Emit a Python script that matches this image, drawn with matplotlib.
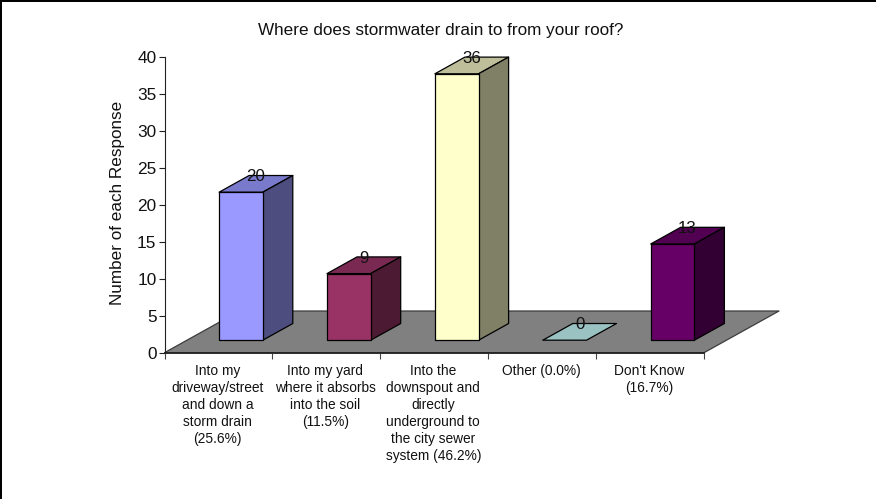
import matplotlib
matplotlib.use("Agg")
import matplotlib.pyplot as plt
from matplotlib.lines import Line2D
from matplotlib.transforms import ScaledTranslation

plt.rcParams['font.family'] = ['Liberation Sans', 'DejaVu Sans']

# --- data ---
categories = [
    "Into my\ndriveway/street\nand down a\nstorm drain\n(25.6%)",
    "Into my yard\nwhere it absorbs\ninto the soil\n(11.5%)",
    "Into the\ndownspout and\ndirectly\nunderground to\nthe city sewer\nsystem (46.2%)",
    "Other (0.0%)",
    "Don't Know\n(16.7%)",
]
values = [20, 9, 36, 0, 13]
front_colors = ["#9999FF", "#993366", "#FFFFCC", "#A3CCCC", "#660066"]
top_colors = ["#7A7ACC", "#7A2952", "#BEBE9A", "#9BC2C2", "#520052"]
side_colors = ["#4D4D80", "#4D1A33", "#808066", "#4D6666", "#330033"]
yticks = [0, 5, 10, 15, 20, 25, 30, 35, 40]

W, H = 876, 499
fig = plt.figure(figsize=(W / 100, H / 100), dpi=100)

# axes box in pixels: 0 at y=352.7, 40 at y=56.7, categories from x=164.5 to 704
left, right, bottom, top = 164.5, 704.0, 352.7, 56.7
ax = fig.add_axes([left / W, 1 - bottom / H, (right - left) / W, (bottom - top) / H])
ax.set_xlim(0, 5)
ax.set_ylim(0, 40)

# the fake 3D depth, full floor depth expressed in data units
depth_x = 75.0 / 107.9
depth_y = 41.7 / 7.4


def project(x, y, d):
    return x + d * depth_x, y + d * depth_y


def poly(points, color, edge="black", lw=0.9, z=3):
    xs = [project(*p)[0] for p in points]
    ys = [project(*p)[1] for p in points]
    ax.fill(xs, ys, facecolor=color, edgecolor=edge, linewidth=lw,
            clip_on=False, zorder=z, joinstyle="round")


# --- floor ---
poly([(0, 0, 0), (5, 0, 0), (5, 0, 1), (0, 0, 1)], "#808080", edge="#3C3C3C", lw=0.9, z=1)

# --- bars ---
bar_w = 43.7 / 107.9
d0, d1 = 0.3, 0.7
label_shift = ScaledTranslation(0, 7 / 100, fig.dpi_scale_trans)
for i, v in enumerate(values):
    x0 = i + (1 - bar_w) / 2
    x1 = x0 + bar_w
    poly([(x0, v, d0), (x1, v, d0), (x1, v, d1), (x0, v, d1)], top_colors[i])
    if v > 0:
        poly([(x1, 0, d0), (x1, 0, d1), (x1, v, d1), (x1, v, d0)], side_colors[i])
        poly([(x0, 0, d0), (x1, 0, d0), (x1, v, d0), (x0, v, d0)], front_colors[i])
    lx, ly = project(i + 0.5, v, 0.5)
    ax.text(lx, ly, str(v), ha="center", va="center", fontsize=12.2, color="#111111",
            zorder=5, clip_on=False, transform=ax.transData + label_shift)

# --- axes ---
ax.patch.set_visible(False)
for s in ["top", "right"]:
    ax.spines[s].set_visible(False)
ax.spines["left"].set_linewidth(0.8)
ax.spines["left"].set_color("#222222")
ax.spines["bottom"].set_linewidth(1.3)
ax.spines["bottom"].set_color("#222222")
ax.spines["bottom"].set_zorder(2)

ax.set_yticks(yticks)
ax.tick_params(axis="y", labelsize=12.4, length=4.3, width=0.8, pad=1.5, color="#222222", labelcolor="#111111")
ax.set_xticks(range(6))
ax.set_xticklabels([])
ax.tick_params(axis="x", length=4.3, width=0.8, color="#444444")
for i, c in enumerate(categories):
    ax.annotate(c, xy=(i + 0.5, 0), xycoords="data", xytext=(-1, -11), textcoords="offset pixels",
                ha="center", va="top", fontsize=9.95, linespacing=1.28, color="#111111")

ax.set_ylabel("Number of each Response", fontsize=12.3, color="#111111")
ax.yaxis.set_label_coords((125 - left) / (right - left), 0.505)

fig.text(441 / W, 1 - 31 / H, "Where does stormwater drain to from your roof?",
         ha="center", va="center", fontsize=12.3, color="#111111")

# black edge on the top and left of the image
fig.add_artist(Line2D([0, 1], [1 - 1 / H, 1 - 1 / H], color="black", lw=1.44))
fig.add_artist(Line2D([1 / W, 1 / W], [0, 1], color="black", lw=1.44))

fig.savefig("out.png", dpi=100)
